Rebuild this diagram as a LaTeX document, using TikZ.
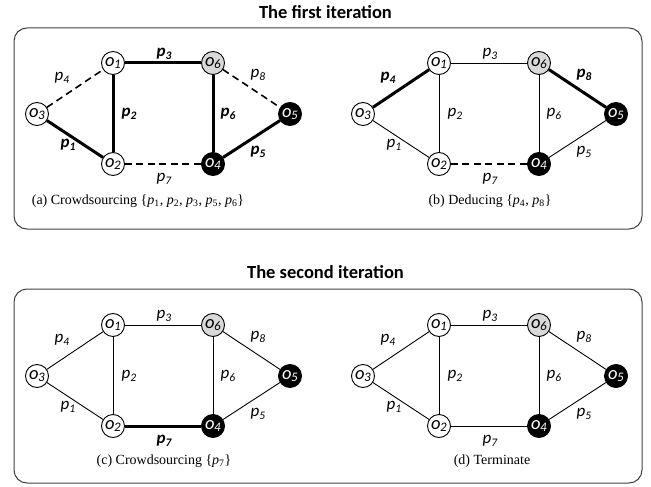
\documentclass[tikz,border=0pt]{standalone}
\usepackage{fontspec}
\setmainfont{Liberation Serif}
\newfontfamily\carl{Carlito}
\newcommand\onode[1]{{\carl\itshape\fontsize{18.5}{18.5}\selectfont o\kern-0.5pt\raisebox{-2.5pt}{\fontsize{13}{13}\selectfont #1}}}
\newcommand\plab[1]{{\carl\itshape\fontsize{17}{17}\selectfont p\raisebox{-3pt}{\fontsize{11.5}{11.5}\selectfont #1}}}
\newcommand\capp[1]{\textit{p}\textsubscript{#1}}
\tikzset{
  obj/.style={circle,draw=black,line width=0.9pt,minimum size=23pt,inner sep=0pt,fill=white,text=black},
  objgray/.style={obj,fill=gray!30},
  objblack/.style={obj,fill=black,text=white},
  thinE/.style={draw=black,line width=0.9pt},
  thickE/.style={draw=black,line width=3pt},
  dashE/.style={draw=black,line width=1.6pt,dash pattern=on 7pt off 4.5pt},
  lab/.style={inner sep=0pt},
  labB/.style={inner sep=0pt,font=\bfseries},
  panelbox/.style={draw=black!75,line width=1pt,rounded corners=13pt},
  ttl/.style={font=\carl\bfseries\fontsize{18.5}{18.5}\selectfont},
  captxt/.style={font=\fontsize{14}{14}\selectfont,inner sep=0pt},
  e1/.style={thinE},e2/.style={thinE},e3/.style={thinE},e4/.style={thinE},
  e5/.style={thinE},e6/.style={thinE},e7/.style={thinE},e8/.style={thinE},
  l1/.style={lab},l2/.style={lab},l3/.style={lab},l4/.style={lab},
  l5/.style={lab},l6/.style={lab},l7/.style={lab},l8/.style={lab}
}
\newcommand\drawpanel[1]{%
  \node[obj] (#1o3) at (37,114) {\onode{3}};
  \node[obj] (#1o1) at (113,63) {\onode{1}};
  \node[obj] (#1o2) at (113,164) {\onode{2}};
  \node[objgray] (#1o6) at (213,63) {\onode{6}};
  \node[objblack] (#1o4) at (213,164) {\onode{4}};
  \node[objblack] (#1o5) at (290,114) {\onode{5}};
  \draw[e1] (#1o3) -- (#1o2);
  \draw[e2] (#1o1) -- (#1o2);
  \draw[e3] (#1o1) -- (#1o6);
  \draw[e4] (#1o3) -- (#1o1);
  \draw[e5] (#1o4) -- (#1o5);
  \draw[e6] (#1o6) -- (#1o4);
  \draw[e7] (#1o2) -- (#1o4);
  \draw[e8] (#1o6) -- (#1o5);
  \node[l1] (#1p1) at (68,145) {\plab{1}};
  \node[l2] (#1p2) at (129,114) {\plab{2}};
  \node[l3] (#1p3) at (164,54) {\plab{3}};
  \node[l4] (#1p4) at (62,78) {\plab{4}};
  \node[l5] (#1p5) at (258,152) {\plab{5}};
  \node[l6] (#1p6) at (228,114) {\plab{6}};
  \node[l7] (#1p7) at (164,179) {\plab{7}};
  \node[l8] (#1p8) at (258,75) {\plab{8}};
}
\begin{document}
\begin{tikzpicture}[x=1pt,y=-1pt]
\useasboundingbox (0,0) rectangle (651,487);
\node[ttl] (t1) at (325.5,12) {The first iteration};
\draw[panelbox] (14,28) rectangle (642,229);
\node[ttl] (t2) at (325.5,272) {The second iteration};
\draw[panelbox] (14,289) rectangle (642,483);
% (a)
\begin{scope}[e1/.style={thickE},e2/.style={thickE},e3/.style={thickE},e5/.style={thickE},e6/.style={thickE},
  e4/.style={dashE},e7/.style={dashE},e8/.style={dashE},
  l1/.style={labB},l2/.style={labB},l3/.style={labB},l5/.style={labB},l6/.style={labB}]
  \drawpanel{a}
\end{scope}
\node[captxt] (capa) at (138,201) {(a) Crowdsourcing \{\capp{1}, \capp{2}, \capp{3}, \capp{5}, \capp{6}\}};
% (b)
\begin{scope}[shift={(326,0)},e4/.style={thickE},e8/.style={thickE},e7/.style={dashE},
  l4/.style={labB},l8/.style={labB}]
  \drawpanel{b}
\end{scope}
\node[captxt] (capb) at (490,201) {(b) Deducing \{\capp{4}, \capp{8}\}};
% (c)
\begin{scope}[shift={(0,262)},e7/.style={thickE},l7/.style={labB}]
  \drawpanel{c}
\end{scope}
\node[captxt] (capc) at (164,461) {(c) Crowdsourcing \{\capp{7}\}};
% (d)
\begin{scope}[shift={(326,262)}]
  \drawpanel{d}
\end{scope}
\node[captxt] (capd) at (492,461) {(d) Terminate};
\end{tikzpicture}
\end{document}
